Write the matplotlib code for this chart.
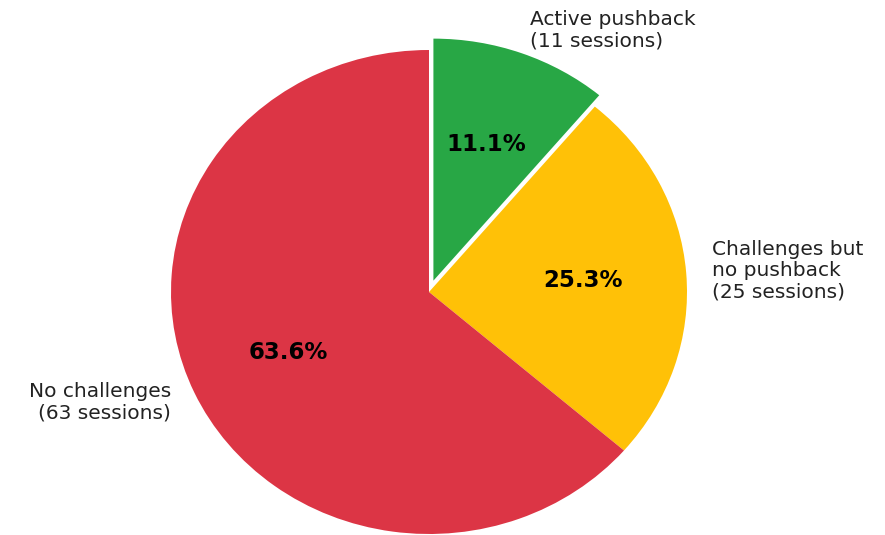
import matplotlib
matplotlib.use("Agg")
import matplotlib.pyplot as plt

labels = ["Active pushback\n(11 sessions)",
          "Challenges but\nno pushback\n(25 sessions)",
          "No challenges\n(63 sessions)"]
sessions = [11, 25, 63]
colors = ["#28a745", "#ffc107", "#dc3545"]
explode = [0.05, 0, 0]

fig = plt.figure(figsize=(8.85, 5.35), dpi=100)
ax = fig.add_axes([0, 0, 1, 1])

wedges, texts, autotexts = ax.pie(sessions, labels=labels, colors=colors,
                                  explode=explode, startangle=90,
                                  counterclock=False, autopct="%1.1f%%",
                                  textprops={"fontsize": 14.5, "color": "#222222"})
for t in texts:
    t.set_linespacing(1.15)
for t in autotexts:
    t.set_fontsize(16.5)
    t.set_fontweight("bold")
    t.set_color("black")

# pie is a little wider than tall in the reference
ax.set_aspect("auto")
ax.set_xlim(-429 / 258, (885 - 429) / 258)
ax.set_ylim(-(535 - 292) / 242, 292 / 242)

fig.savefig("out.png", dpi=100)
